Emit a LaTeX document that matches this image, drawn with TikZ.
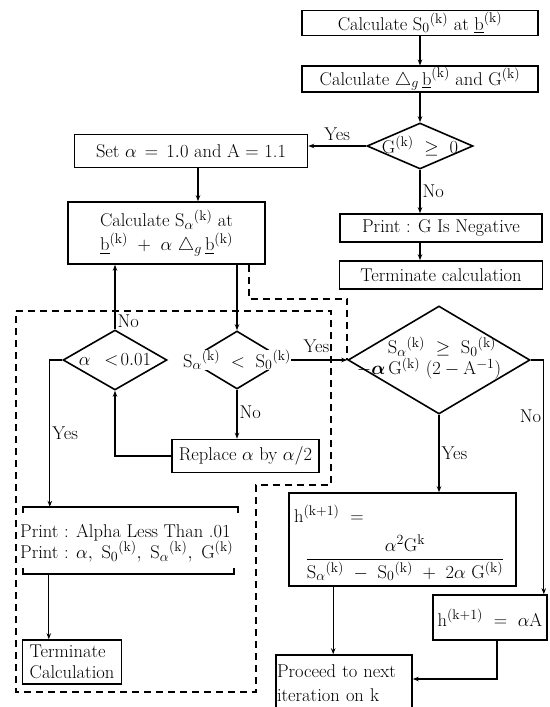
\RequirePackage{fix-cm}
\documentclass[tikz,border=0pt]{standalone}
\usepackage{amsmath,amssymb}
\usetikzlibrary{arrows.meta,shapes.geometric}
\DeclareMathSizes{18.5}{18.5}{14}{11}
\newcommand{\Sk}[1]{\mathrm{S}_{#1}{}^{(\mathrm{k})}}
\newcommand{\Gk}{\mathrm{G}^{(\mathrm{k})}}
\newcommand{\ubk}{\underline{\mathrm{b}}^{(\mathrm{k})}}
\begin{document}
\begin{tikzpicture}[x=1pt,y=-1pt,font=\fontsize{18.5}{21}\selectfont,
  box/.style={draw,line width=1.6pt,inner sep=1pt},
  dia/.style={draw,diamond,line width=1.6pt,inner sep=0pt},
  flow/.style={line width=1.3pt,-{Stealth[length=6pt,width=4.5pt]}},
  dashline/.style={line width=1.5pt,dash pattern=on 7pt off 5pt},
  lab/.style={inner sep=2pt}]
\useasboundingbox (0,0) rectangle (549,707);

% top column
\node[box,minimum width=236,minimum height=25] (b1) at (420,23) {Calculate $\Sk{0}$ at $\ubk$};
\node[box,minimum width=236,minimum height=25] (b2) at (420,79) {Calculate $\triangle_g\,\ubk$ and $\Gk$};
\node[dia,minimum width=106,minimum height=46] (d1) at (420,146) {};
\node[lab] (d1t) at (d1) {$\Gk\ \ge\ 0$};
\node[box,minimum width=233,minimum height=33] (set) at (191,151) {Set $\alpha\,=\,1.0$ and A $=$ 1.1};
\node[box,minimum width=197,minimum height=62,align=center] (calc) at (166.5,233)
  {Calculate $\mathrm{S}_\alpha{}^{(\mathrm{k})}$ at\\[3pt] $\ubk\ +\ \alpha\ \triangle_g\,\ubk$};
\node[box,minimum width=202,minimum height=28] (pg) at (441,228) {Print : G Is Negative};
\node[box,minimum width=203,minimum height=28] (tc) at (441,275) {Terminate calculation};

% loop region
\node[dia,minimum width=104,minimum height=60] (da) at (115,360) {};
\node[lab] (dat) at (da) {$\alpha\ \,<\!0.01$};
\node[dia,minimum width=96,minimum height=58] (ds) at (237,360) {};
\node[box,minimum width=147,minimum height=33] (rep) at (245.5,456) {Replace $\alpha$ by $\alpha/2$};
\node[inner sep=0pt,minimum width=215,minimum height=67] (pr) at (130.5,540.5) {};
\node[inner sep=0pt,anchor=west,align=left] (prt) at (20,543)
  {Print : Alpha Less Than .01\\ Print : $\alpha,\ \Sk{0},\ \Sk{\alpha},\ \Gk$};
\node[box,minimum width=99,minimum height=44,align=left,inner sep=1pt] (tcc) at (72,662) {Terminate\\Calculation};

% right part
\node[dia,minimum width=182,minimum height=108] (bd) at (439,360) {};
\node[box,minimum width=227,minimum height=93] (hb) at (402.5,539.5) {};
\node[box,minimum width=114,minimum height=45] (ha) at (490,617.5) {$\mathrm{h}^{(\mathrm{k+1})}\ =\ \alpha\mathrm{A}$};
\node[box,minimum width=136,minimum height=56,text width=134,align=left,inner sep=1pt] (pc) at (344,683)
  {Proceed to next\\[3pt] iteration on k};

% connectors
\draw[flow] (b1) -- (b2);
\draw[flow] (b2) -- (d1);
\draw[flow] (d1.west) -- node[lab,above,pos=0.5,yshift=3pt]{Yes} (d1.west -| set.east);
\draw[flow] (d1.south) -- node[lab,right,pos=0.5]{No} (d1.south |- pg.north);
\draw[flow] (d1.south |- pg.south) -- (d1.south |- tc.north);
\draw[flow] ([xshift=7pt]set.south) -- ([xshift=7pt]set.south |- calc.north);
\draw[flow] (calc.south -| ds) -- (ds.north);
\draw[flow] (da.north) -- node[lab,right,pos=0.12]{No} (calc.south -| da);
\draw[flow] (da.west) -| node[lab,right,pos=0.75]{Yes} ([xshift=27pt]pr.north west);
\draw[flow] (ds.south) -- node[lab,right,pos=0.45]{No} (ds.south |- rep.north);
\draw[flow] (rep.west) -| (da.south);
\draw[flow] (ds.east) -- node[lab,above,pos=0.5,yshift=5pt]{Yes} (bd.west);
\node[lab,fill=white,inner sep=0.5pt] (dst) at (ds) {$\Sk{\alpha}\ <\ \Sk{0}$};
\draw[flow] (bd.east) -| node[lab,left,pos=0.62]{No} ([xshift=-4pt]ha.north east);
\draw[flow] (bd.south) -- node[lab,right,pos=0.5]{Yes} (bd.south |- hb.north);
\draw[flow] ([xshift=45pt]hb.south west) -- ([xshift=45pt]hb.south west |- pc.north);
\draw[flow] ([xshift=7pt]ha.south) |- ([yshift=4pt]pc.east);
\draw[flow] ([xshift=26pt]pr.south west) -- ([xshift=26pt]pr.south west |- tcc.north);

% print bracket
\draw[line width=1.6pt] ([yshift=-6pt]pr.north west) -- (pr.north west) -- (pr.north east) -- ([yshift=-6pt]pr.north east);
\draw[line width=1.6pt] ([yshift=6pt]pr.south west) -- (pr.south west) -- ([xshift=-4pt]pr.south east) -- ([xshift=-4pt,yshift=6pt]pr.south east);

% texts in big diamond and h box
\node[inner sep=0pt,align=left,font=\fontsize{18.5}{21}\selectfont] (bdt) at (429,358)
  {\hspace*{31pt}$\Sk{\alpha}\ \ge\ \Sk{0}$\\ $-\boldsymbol{\alpha}\,\Gk\ (2-\mathrm{A}^{-1})$};
\node[lab,anchor=west] (hbt) at (292,514) {$\mathrm{h}^{(\mathrm{k+1})}\ =$};
\node[lab] (hbf) at (405,558) {$\dfrac{\alpha^2\mathrm{G}^{\mathrm{k}}}{\Sk{\alpha}\ -\ \Sk{0}\ +\ 2\alpha\ \Gk}$};

% dashed lines
\draw[dashline] ([xshift=-17pt]calc.south east) |- ([yshift=61pt]bd.west) -- (bd.west);
\draw[dashline] (16,311) -- (331,311) -- (331,485) -- (256,485) -- (256,692) -- (16,692) -- cycle;
\end{tikzpicture}
\end{document}
